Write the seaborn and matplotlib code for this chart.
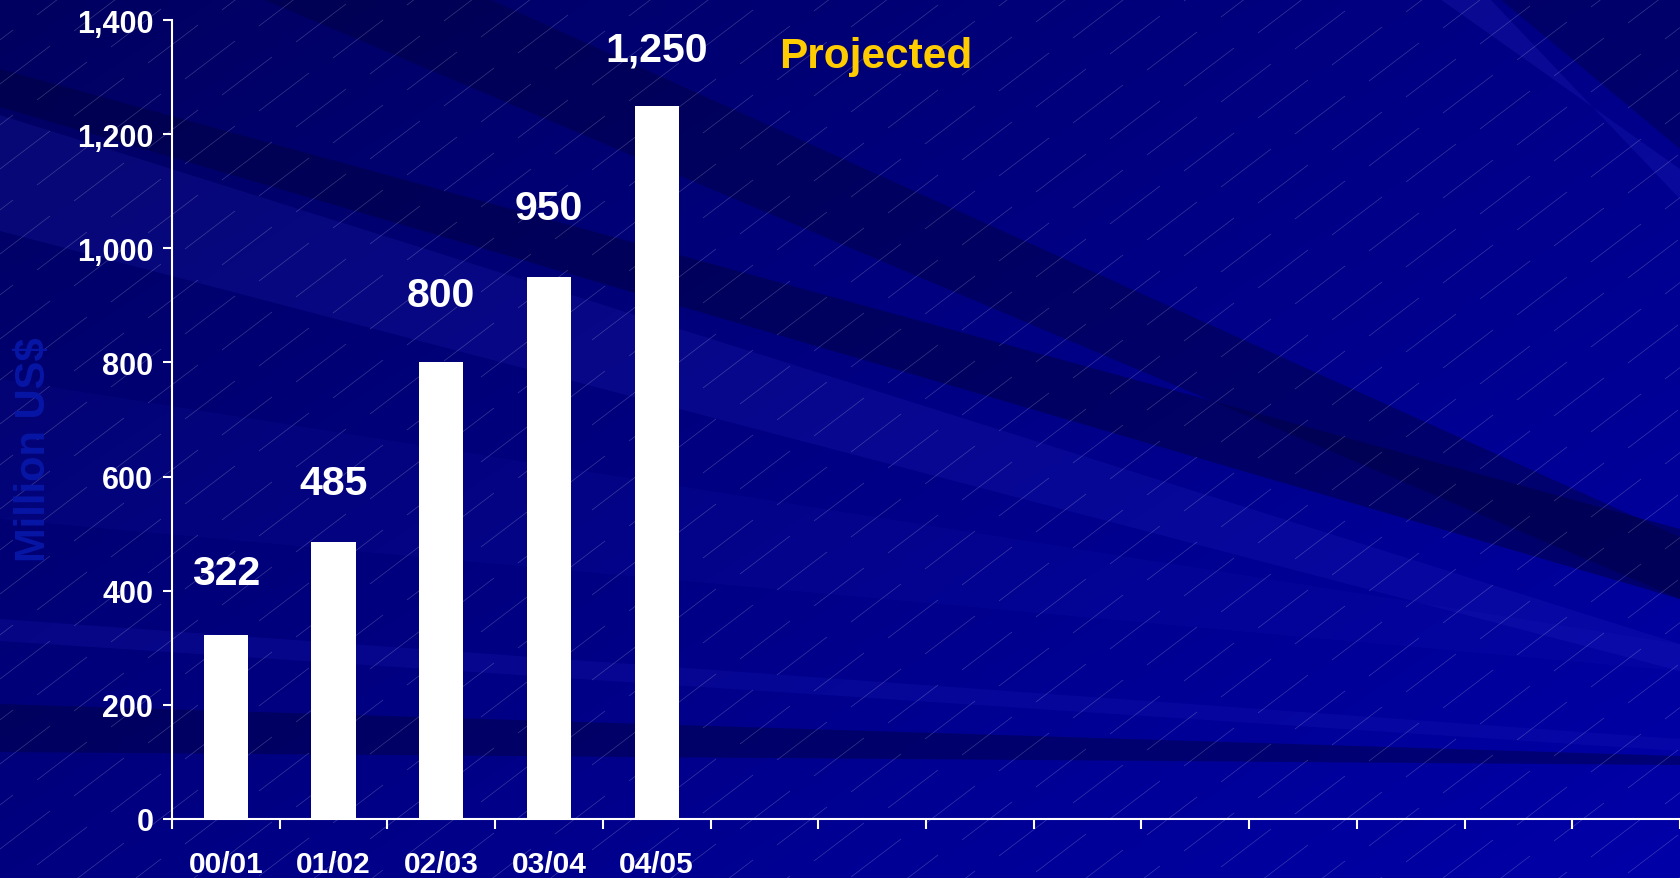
import numpy as np
import matplotlib
matplotlib.use("Agg")
import matplotlib.pyplot as plt
import seaborn as sns
from matplotlib.collections import LineCollection
from matplotlib.patches import Polygon

# ---- data ----
periods = ["00/01", "01/02", "02/03", "03/04", "04/05"]
values = [322, 485, 800, 950, 1250]
y_ticks = [0, 200, 400, 600, 800, 1000, 1200, 1400]
y_label = "Million US$"
note = "Projected"
n_slots = 14

sns.set_theme(style="white")
plt.rcParams['font.family'] = ['Liberation Sans', 'DejaVu Sans']
plt.rcParams['font.weight'] = 'bold'

W, H = 1680, 879
fig = plt.figure(figsize=(W / 100, H / 100), dpi=100, facecolor='#000080')

# ---- decorative background (figure pixel space) ----
bg = fig.add_axes([0, 0, 1, 1], zorder=0)
bg.set_xlim(0, W)
bg.set_ylim(H, 0)
bg.axis('off')
gx, gy = np.meshgrid(np.linspace(0, 1, 240), np.linspace(0, 1, 140))
blue = np.clip((96 + 40 * gx + 32 * gy) / 255, 0, 1)
img = np.dstack([np.zeros_like(blue), np.zeros_like(blue), blue])
bg.imshow(img, extent=[0, W, H, 0], aspect='auto', interpolation='bilinear')


def band(lt, lb, rt, rb, color, alpha):
    bg.add_patch(Polygon([(0, lt), (W, rt), (W, rb), (0, lb)], closed=True,
                         facecolor=color, edgecolor='none', alpha=alpha))


band(-221, -111, 538, 600, '#000040', 0.45)
band(70, 108, 530, 600, '#000040', 0.5)
band(116, 232, 645, 672, '#3030d0', 0.16)
band(380, 520, 645, 672, '#3030d0', 0.08)
band(620, 642, 740, 752, '#2020c0', 0.2)
band(705, 753, 757, 766, '#000040', 0.45)
bg.add_patch(Polygon([(1500, 0), (W, 0), (W, 150)], facecolor='#000040',
                     edgecolor='none', alpha=0.4))
bg.add_patch(Polygon([(1440, 0), (1490, 0), (W, 200), (W, 170)],
                     facecolor='#3030d0', edgecolor='none', alpha=0.2))

# hatch texture
segs = []
for i in range(-5, 60):
    x0 = i * 37
    off = (16 * i) % 85
    for j in range(-2, 13):
        y0 = off + 85 * j
        segs.append([(x0, y0), (x0 + 50, y0 - 38)])
bg.add_collection(LineCollection(segs, colors='white', linewidths=0.5, alpha=0.22))

# ---- chart ----
ax = fig.add_axes([172 / W, 59 / H, 1508 / W, 799 / H], zorder=1)
ax.patch.set_alpha(0)
sns.barplot(x=periods, y=values, color='white', saturation=1, width=0.41,
            linewidth=0, ax=ax)

ax.set_xlim(-0.5, n_slots - 0.5)
ax.set_ylim(0, 1400)
ax.set_yticks(y_ticks, labels=[f"{t:,}" for t in y_ticks])
bounds = np.arange(-0.5, n_slots, 1)
ax.set_xticks(bounds, labels=[''] * len(bounds))
ax.set_xticks(range(len(periods)), labels=periods, minor=True)
ax.set_xlabel('')
ax.set_ylabel('')

for s in ['top', 'right']:
    ax.spines[s].set_visible(False)
for s in ['left', 'bottom']:
    ax.spines[s].set_color('white')
    ax.spines[s].set_linewidth(1.5)

ax.tick_params(axis='y', which='major', direction='out', length=6.5, width=1.5,
               color='white', labelcolor='white', labelsize=22, pad=7, left=True)
ax.tick_params(axis='x', which='major', direction='out', length=7, width=1.5,
               color='white', bottom=True)
ax.tick_params(axis='x', which='minor', length=0, pad=22, labelsize=21.5,
               labelcolor='white')
for lab in ax.get_xticklabels(minor=True) + ax.get_yticklabels():
    lab.set_fontweight('bold')

label_pad = [31, 29, 35, 36, 27]
for rect, v, p in zip(ax.containers[0], values, label_pad):
    ax.annotate(f"{v:,}", (rect.get_x() + rect.get_width() / 2, rect.get_height()),
                xytext=(0, p), textcoords='offset points', ha='center', va='bottom',
                fontsize=29.5, color='white', fontweight='bold')

ax.text(6.03, 1318, note, ha='center', va='baseline', fontsize=30.5,
        color='#FFCC00', fontweight='bold')

fig.text(34 / W, 1 - 450 / H, y_label, rotation=90, ha='center', va='center',
         fontsize=30, color='#0816A6', fontweight='bold')

fig.savefig('out.png', dpi=100, facecolor=fig.get_facecolor())
